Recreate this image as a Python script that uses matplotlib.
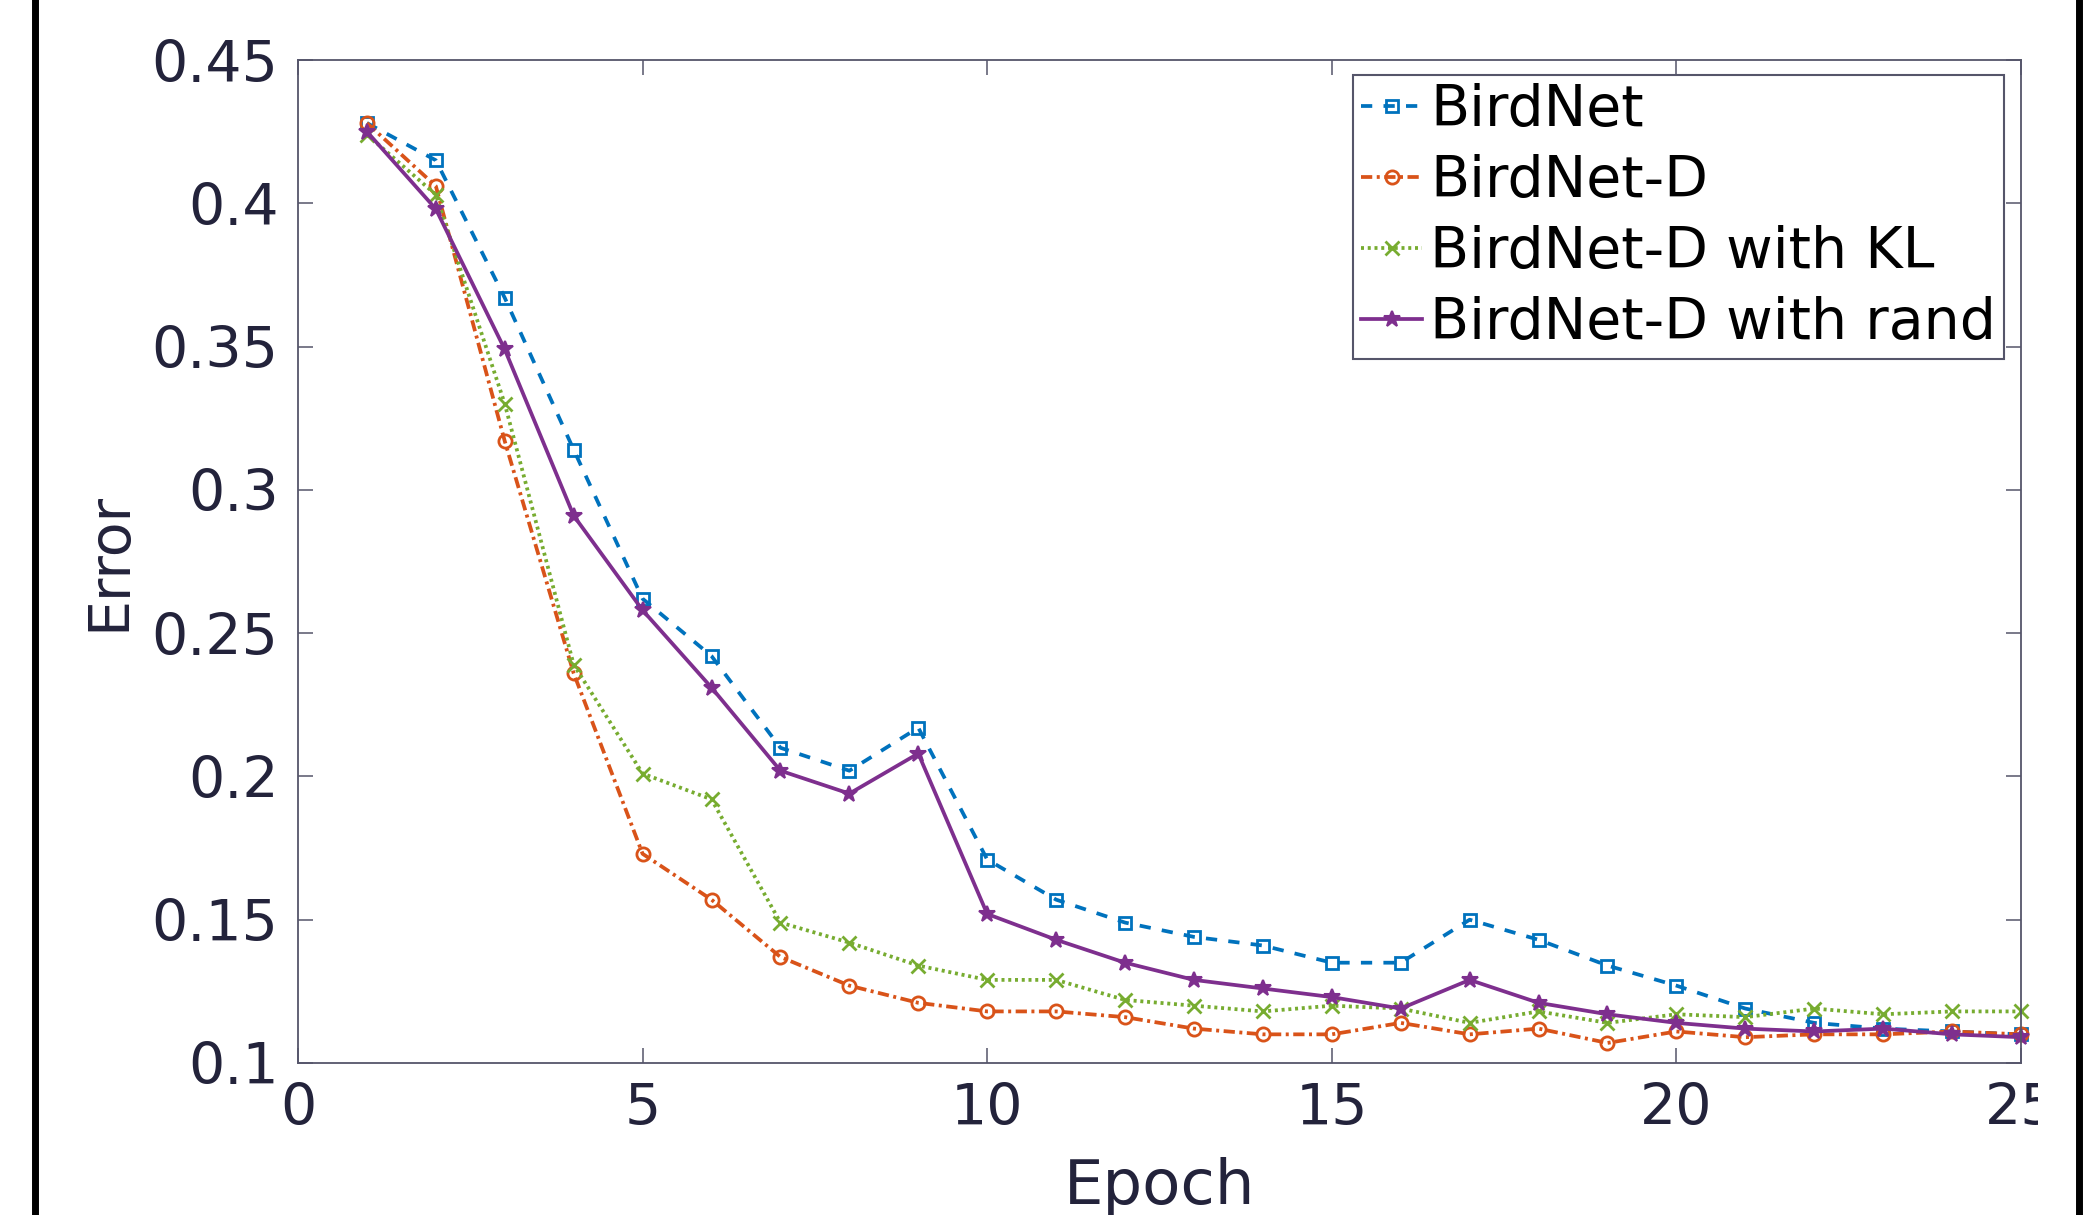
import numpy as np
import matplotlib.pyplot as plt
from matplotlib.lines import Line2D
from matplotlib.transforms import Bbox, TransformedBbox

# === DATA ===
epochs = np.arange(1, 26)

birdnet = [0.428, 0.415, 0.367, 0.314, 0.262, 0.242, 0.210, 0.202, 0.217, 0.171,
           0.157, 0.149, 0.144, 0.141, 0.135, 0.135, 0.150, 0.143, 0.134, 0.127,
           0.119, 0.114, 0.112, 0.111, 0.110]
birdnet_d = [0.428, 0.406, 0.317, 0.236, 0.173, 0.157, 0.137, 0.127, 0.121, 0.118,
             0.118, 0.116, 0.112, 0.110, 0.110, 0.114, 0.110, 0.112, 0.107, 0.111,
             0.109, 0.110, 0.110, 0.111, 0.110]
birdnet_d_kl = [0.424, 0.403, 0.330, 0.239, 0.201, 0.192, 0.149, 0.142, 0.134, 0.129,
                0.129, 0.122, 0.120, 0.118, 0.120, 0.119, 0.114, 0.118, 0.114, 0.117,
                0.116, 0.119, 0.117, 0.118, 0.118]
birdnet_d_rand = [0.425, 0.398, 0.349, 0.291, 0.258, 0.231, 0.202, 0.194, 0.208, 0.152,
                  0.143, 0.135, 0.129, 0.126, 0.123, 0.119, 0.129, 0.121, 0.117, 0.114,
                  0.112, 0.111, 0.112, 0.110, 0.109]

labels = ["BirdNet", "BirdNet-D", "BirdNet-D with KL", "BirdNet-D with rand"]
xticks = [0, 5, 10, 15, 20, 25]
yticks = [0.1, 0.15, 0.2, 0.25, 0.3, 0.35, 0.4, 0.45]

# === STYLE ===
W, H = 2094, 1215
txt_col = "#23233b"
axis_col = "#55556a"
plt.rcParams["font.family"] = ["DejaVu Sans"]

fig = plt.figure(figsize=(W / 100, H / 100), dpi=100)
ax = fig.add_axes([298 / W, 1 - 1063 / H, (2021 - 298) / W, (1063 - 60) / H])

lw = 2.7
ax.plot(epochs, birdnet, color="#0072BD", linestyle=(0, (3, 3)), lw=lw,
        marker="s", markersize=8.5, markerfacecolor="none", markeredgewidth=2,
        label=labels[0], clip_on=False)
ax.plot(epochs, birdnet_d, color="#D95319", linestyle=(0, (3, 1.2, 0.8, 1.2)), lw=lw,
        marker="o", markersize=9.5, markerfacecolor="none", markeredgewidth=2,
        label=labels[1], clip_on=False)
ax.plot(epochs, birdnet_d_kl, color="#77AC30", linestyle=(0, (0.8, 1.0)), lw=lw,
        marker="x", markersize=9.5, markeredgewidth=2,
        label=labels[2], clip_on=False)
ax.plot(epochs, birdnet_d_rand, color="#7E2F8E", linestyle="-", lw=lw,
        marker="*", markersize=12, markeredgewidth=1.5,
        label=labels[3], clip_on=False)

ax.set_xlim(0, 25)
ax.set_ylim(0.1, 0.45)
ax.set_xticks(xticks)
ax.set_yticks(yticks)
ax.set_yticklabels(["0.1", "0.15", "0.2", "0.25", "0.3", "0.35", "0.4", "0.45"])

for s in ax.spines.values():
    s.set_color(axis_col)
    s.set_linewidth(1.3)
ax.tick_params(direction="in", length=11, width=1.1, color=axis_col,
               top=True, right=True, labelsize=41, labelcolor=txt_col, pad=14)

ax.set_xlabel("Epoch", fontsize=45, color=txt_col, labelpad=14)
ax.set_ylabel("Error", fontsize=41, color=txt_col, labelpad=10)

leg = ax.legend(loc="upper right", bbox_to_anchor=(2004 / W, 1 - 75 / H),
                bbox_transform=fig.transFigure, fontsize=41, handlelength=1.07,
                handletextpad=0.14, borderpad=0.14, labelspacing=0.28,
                borderaxespad=0, fancybox=False, framealpha=1)
leg.get_frame().set_edgecolor(axis_col)
leg.get_frame().set_linewidth(1.5)

# last x tick label is cut off in the reference
clip = TransformedBbox(Bbox([[0, 0], [2038 / W, 1]]), fig.transFigure)
fig.canvas.draw()
for t in ax.get_xticklabels():
    t.set_clip_box(clip)
    t.set_clip_on(True)

# black frame bars at the image edges
fig.add_artist(Line2D([35 / W, 35 / W], [0, 1], color="black", lw=5))
fig.add_artist(Line2D([2078.5 / W, 2078.5 / W], [0, 1], color="black", lw=5))

fig.savefig("out.png", dpi=100)
